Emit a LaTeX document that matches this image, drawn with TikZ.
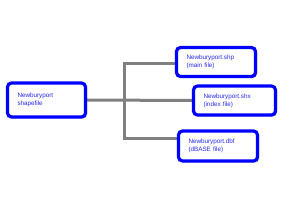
\documentclass[tikz,border=0pt]{standalone}
\usepackage{fontspec}
\setmainfont{Liberation Sans}
\usetikzlibrary{shadows,backgrounds}
\definecolor{boxblue}{RGB}{0,0,255}
\definecolor{txtblue}{RGB}{40,40,240}
\definecolor{conngray}{RGB}{128,128,128}
\tikzset{
  filebox/.style={draw=boxblue, line width=3.2pt, rounded corners=4pt, fill=white,
    drop shadow={shadow xshift=1.5pt, shadow yshift=-1.5pt, fill=black, opacity=0.35},
    inner xsep=10pt, inner ysep=0pt, align=left, text=txtblue,
    font=\fontsize{6.3}{8.2}\selectfont},
  conn/.style={draw=conngray, line width=3pt}
}
\begin{document}
\begin{tikzpicture}[x=1pt,y=-1pt]
\useasboundingbox (0,0) rectangle (300,213);
\node[filebox, minimum width=78pt, minimum height=34pt, text width=58pt] (src) at (46.5,100) {Newburyport\\shapefile};
\node[filebox, minimum width=79pt, minimum height=29pt, text width=59pt] (shp) at (216,62) {Newburyport.shp\\(main file)};
\node[filebox, minimum width=82pt, minimum height=29pt, text width=62pt] (shx) at (234.5,100.5) {Newburyport.shx\\(index file)};
\node[filebox, minimum width=79pt, minimum height=30pt, text width=59pt] (dbf) at (218,146) {Newburyport.dbf\\(dBASE file)};
\coordinate (j) at (124,100.5);
\begin{pgfonlayer}{background}
\fill[white] (0,0) rectangle (300,213);
\draw[conn] (src.east) -- (shx.west);
\draw[conn] ([yshift=-2pt]shp.west) -| (j) |- ([yshift=7pt]dbf.west);
\end{pgfonlayer}
\end{tikzpicture}
\end{document}
